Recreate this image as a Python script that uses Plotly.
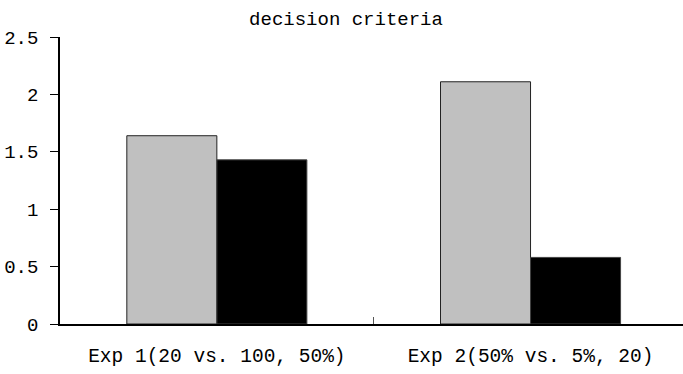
import plotly.graph_objects as go

# Experiment conditions and the two measured series
categories = ["Exp 1(20 vs. 100, 50%)", "Exp 2(50% vs. 5%, 20)"]
series_a = [1.64, 2.11]   # grey bars
series_b = [1.43, 0.58]   # black bars
y_ticks = [0, 0.5, 1, 1.5, 2, 2.5]
y_tick_text = ["0", "0.5", "1", "1.5", "2", "2.5"]

FONT = "Liberation Mono"

fig = go.Figure()
fig.add_trace(go.Bar(
    x=categories, y=series_a, name="A",
    marker=dict(color="#c0c0c0", line=dict(color="#222222", width=1)),
))
fig.add_trace(go.Bar(
    x=categories, y=series_b, name="B",
    marker=dict(color="#000000", line=dict(color="#444444", width=1)),
))

fig.update_layout(
    width=683, height=374,
    margin=dict(l=60, r=0, t=37, b=50),
    paper_bgcolor="white", plot_bgcolor="white",
    barmode="group", bargap=0.426, bargroupgap=0,
    showlegend=False,
    font=dict(family=FONT, color="black"),
    title=dict(
        text="decision criteria",
        x=346 / 683, xanchor="center", xref="container",
        y=1 - 18 / 374, yanchor="middle", yref="container",
        font=dict(family=FONT, size=19, color="black"),
    ),
)
fig.update_xaxes(
    range=[-0.5, 1.486],
    showline=True, linecolor="black", linewidth=1.5,
    ticks="inside", tickson="boundaries", ticklen=7, tickcolor="#555555",
    showgrid=False, zeroline=False,
    tickfont=dict(family=FONT, size=19.5, color="black"),
    ticklabelstandoff=13,
)
fig.update_yaxes(
    range=[0, 2.5],
    tickvals=y_ticks, ticktext=y_tick_text,
    showline=True, linecolor="black", linewidth=1.5,
    ticks="outside", ticklen=8, tickcolor="black",
    showgrid=False, zeroline=False,
    tickfont=dict(family=FONT, size=19, color="black"),
    ticklabelstandoff=8,
)

fig.write_html("out.html")
